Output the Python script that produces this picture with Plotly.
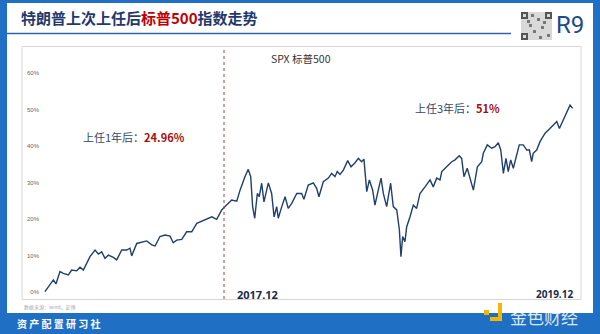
import plotly.graph_objects as go

# ---------------- data ----------------
years = [
    2016.974, 2016.993, 2017.022, 2017.037, 2017.060, 2017.079, 2017.108, 2017.127, 2017.156, 2017.175,
    2017.194, 2017.232, 2017.261, 2017.280, 2017.299, 2017.318, 2017.337, 2017.366, 2017.385, 2017.414,
    2017.442, 2017.461, 2017.471, 2017.500, 2017.538, 2017.557, 2017.586, 2017.605, 2017.633, 2017.662,
    2017.691, 2017.709, 2017.729, 2017.758, 2017.786, 2017.815, 2017.844, 2017.881, 2017.910, 2017.930,
    2017.958, 2017.987, 2018.006,
    2018.015, 2018.044, 2018.073, 2018.092, 2018.120, 2018.139, 2018.153, 2018.164, 2018.176, 2018.191,
    2018.202, 2018.216, 2018.229, 2018.254, 2018.273, 2018.287, 2018.302, 2018.311, 2018.331, 2018.350,
    2018.368, 2018.388, 2018.417, 2018.445, 2018.458, 2018.483, 2018.512, 2018.531, 2018.544, 2018.569,
    2018.598, 2018.617, 2018.636, 2018.649, 2018.665, 2018.684, 2018.709, 2018.728, 2018.751, 2018.770,
    2018.789, 2018.802, 2018.818, 2018.833, 2018.852, 2018.865, 2018.884, 2018.900, 2018.913, 2018.932,
    2018.955, 2018.970, 2018.990,
    2019.005, 2019.014, 2019.024, 2019.037, 2019.047, 2019.066, 2019.085, 2019.104, 2019.123, 2019.152,
    2019.181, 2019.199, 2019.219, 2019.238, 2019.248, 2019.276, 2019.305, 2019.324, 2019.348, 2019.362,
    2019.375, 2019.394, 2019.410, 2019.429, 2019.452, 2019.477, 2019.486, 2019.509, 2019.534, 2019.553,
    2019.572, 2019.586, 2019.601, 2019.616, 2019.629, 2019.643, 2019.658, 2019.673, 2019.692, 2019.715,
    2019.735, 2019.750, 2019.763, 2019.772, 2019.792, 2019.811, 2019.840, 2019.868, 2019.887, 2019.907,
    2019.922, 2019.941, 2019.960, 2019.973, 2019.983, 2019.998,
]
spx_gain_pct = [
    0.1, 1.5, 3.3, 2.2, 5.6, 5.1, 4.7, 6.0, 5.8, 6.8,
    6.0, 9.7, 11.5, 10.4, 11.0, 9.2, 10.1, 9.5, 8.8, 11.5,
    11.5, 12.0, 9.9, 13.3, 13.8, 14.0, 12.9, 12.6, 15.2, 15.6,
    15.3, 13.5, 14.2, 14.4, 16.5, 16.5, 18.8, 19.5, 20.2, 20.6,
    19.9, 22.5, 23.4,
    23.8, 25.2, 24.9, 27.9, 31.6, 33.6, 31.6, 23.4, 20.2, 27.0,
    26.1, 29.8, 24.7, 29.9, 27.0, 20.6, 23.4, 20.2, 23.4, 26.1,
    22.9, 24.3, 27.0, 27.0, 25.4, 29.3, 29.9, 28.4, 26.1, 30.2,
    31.2, 32.5, 31.6, 33.0, 32.2, 33.4, 36.0, 34.3, 35.4, 36.6,
    35.7, 36.4, 27.5, 30.7, 27.9, 23.8, 27.9, 31.2, 27.0, 23.4,
    29.8, 23.4, 22.5,
    17.0, 9.7, 15.2, 13.8, 17.9, 20.6, 23.8, 22.9, 27.0, 28.8,
    30.7, 28.8, 31.2, 30.7, 33.0, 34.3, 35.7, 36.2, 37.3, 36.6,
    31.6, 33.9, 31.2, 27.9, 34.3, 35.7, 38.0, 40.3, 39.4, 39.8,
    40.9, 38.9, 32.5, 36.6, 33.0, 36.2, 33.9, 36.6, 40.3, 40.3,
    38.9, 38.9, 35.7, 38.0, 38.9, 41.2, 43.5, 44.8, 45.8, 46.7,
    44.8, 46.7, 49.0, 50.3, 51.2, 50.3,
]
assert len(years) == len(spx_gain_pct)

y_ticks = [0, 10, 20, 30, 40, 50, 60]
y_tick_labels = ["0%", "10%", "20%", "30%", "40%", "50%", "60%"]
one_year_mark = 2018.0
series_name = "SPX 标普500"
title_plain_1 = "特朗普上次上任后"
title_red = "标普500"
title_plain_2 = "指数走势"
note_1y_label, note_1y_value = "上任1年后：", "24.96%"
note_3y_label, note_3y_value = "上任3年后：", "51%"
date_labels = ["2017.12", "2019.12"]

# ---------------- layout helpers (pixel -> paper) ----------------
W, H = 600, 334
PL, PR, PT, PB = 40, 578, 60, 296  # plot area in pixels


def xp(px):
    return (px - PL) / (PR - PL)


def yp(py):
    return (PB - py) / (PB - PT)


BLUE = "#1f6fc4"
NAVY = "#1f3a6b"
RED = "#c00000"
CJK = "Noto Sans CJK SC"

fig = go.Figure()
fig.add_trace(go.Scatter(
    x=years, y=spx_gain_pct, mode="lines", name=series_name,
    line=dict(color="#1f3f6e", width=1.4), showlegend=False,
))

shapes = [
    dict(type="rect", xref="paper", yref="paper", x0=xp(7), x1=xp(593), y0=yp(313), y1=yp(3),
         fillcolor="white", line=dict(width=0), layer="below"),
    dict(type="line", xref="paper", yref="paper", x0=xp(7), x1=xp(511), y0=yp(33.5), y1=yp(33.5),
         line=dict(color="#2f64ad", width=1.5)),
    dict(type="rect", xref="paper", yref="paper", x0=xp(22), x1=xp(581), y0=yp(299.5), y1=yp(46.5),
         fillcolor="rgba(0,0,0,0)", line=dict(color="#d6d6d6", width=1), layer="below"),
    dict(type="line", xref="x", yref="paper", x0=one_year_mark, x1=one_year_mark,
         y0=yp(299), y1=yp(47), line=dict(color="#b23a3a", width=1, dash="dot")),
    dict(type="rect", xref="paper", yref="paper", x0=xp(521), x1=xp(552), y0=yp(40), y1=yp(12),
         fillcolor="#d9d9d9", line=dict(width=0)),
]
for (qx, qy) in [(521, 12), (545, 12), (521, 33)]:
    shapes.append(dict(type="rect", xref="paper", yref="paper", x0=xp(qx), x1=xp(qx + 7),
                       y0=yp(qy + 7), y1=yp(qy), fillcolor="#555", line=dict(width=0)))
    shapes.append(dict(type="rect", xref="paper", yref="paper", x0=xp(qx + 2), x1=xp(qx + 5),
                       y0=yp(qy + 5), y1=yp(qy + 2), fillcolor="#d9d9d9", line=dict(width=0)))
for (qx, qy) in [(531, 14), (537, 18), (529, 24), (541, 26), (533, 30), (547, 34), (539, 36), (527, 20), (543, 21)]:
    shapes.append(dict(type="rect", xref="paper", yref="paper", x0=xp(qx), x1=xp(qx + 3),
                       y0=yp(qy + 3), y1=yp(qy), fillcolor="#777", line=dict(width=0)))
shapes += [
    dict(type="rect", xref="paper", yref="paper", x0=xp(490), x1=xp(502), y0=yp(321), y1=yp(317),
         fillcolor="#f2b705", line=dict(width=0)),
    dict(type="rect", xref="paper", yref="paper", x0=xp(498), x1=xp(502), y0=yp(321), y1=yp(303),
         fillcolor="#f2b705", line=dict(width=0)),
    dict(type="rect", xref="paper", yref="paper", x0=xp(484), x1=xp(489), y0=yp(315), y1=yp(310),
         fillcolor="#f2b705", line=dict(width=0)),
]

annotations = [
    dict(xref="paper", yref="paper", x=xp(19), y=yp(17), xanchor="left", yanchor="middle",
         text=f"<b>{title_plain_1}<span style='color:{RED}'>{title_red}</span>{title_plain_2}</b>",
         showarrow=False, font=dict(family=CJK, size=15, color=NAVY)),
    dict(xref="paper", yref="paper", x=xp(570), y=yp(25), xanchor="center", yanchor="middle",
         text="R9", showarrow=False, font=dict(family="Roboto", size=24, color="#1d4a8a")),
    dict(xref="paper", yref="paper", x=xp(301), y=yp(58), xanchor="center", yanchor="middle",
         text=series_name, showarrow=False, font=dict(family=CJK, size=10.5, color="#333")),
    dict(xref="paper", yref="paper", x=xp(81), y=yp(136.5), xanchor="left", yanchor="middle",
         text=f"{note_1y_label}<b><span style='color:#a50f0f'>{note_1y_value}</span></b>",
         showarrow=False, font=dict(family=CJK, size=11, color="#3a4766")),
    dict(xref="paper", yref="paper", x=xp(413), y=yp(108), xanchor="left", yanchor="middle",
         text=f"{note_3y_label}<b><span style='color:#a50f0f'>{note_3y_value}</span></b>",
         showarrow=False, font=dict(family=CJK, size=11, color="#3a4766")),
    dict(xref="paper", yref="paper", x=xp(235), y=yp(294), xanchor="left", yanchor="middle",
         text=f"<b>{date_labels[0]}</b>", showarrow=False,
         font=dict(family="Open Sans", size=11, color="#1b2a48")),
    dict(xref="paper", yref="paper", x=xp(534), y=yp(293.5), xanchor="left", yanchor="middle",
         text=f"<b>{date_labels[1]}</b>", showarrow=False,
         font=dict(family="Open Sans", size=10, color="#1b2a48")),
    dict(xref="paper", yref="paper", x=xp(22), y=yp(306.5), xanchor="left", yanchor="middle",
         text="数据来源：wind，彭博", showarrow=False, font=dict(family=CJK, size=5, color="#aaa")),
    dict(xref="paper", yref="paper", x=xp(15), y=yp(323.5), xanchor="left", yanchor="middle",
         text="<b>资&nbsp;产&nbsp;配&nbsp;置&nbsp;研&nbsp;习&nbsp;社</b>", showarrow=False,
         font=dict(family=CJK, size=10, color="white")),
    dict(xref="paper", yref="paper", x=xp(508), y=yp(316), xanchor="left", yanchor="middle",
         text="金色财经", showarrow=False,
         font=dict(family=CJK, size=17, color="rgba(255,255,255,0.85)")),
]

fig.update_layout(
    width=W, height=H, autosize=False,
    margin=dict(l=PL, r=W - PR, t=PT, b=H - PB, pad=0),
    paper_bgcolor=BLUE, plot_bgcolor="white",
    shapes=shapes, annotations=annotations,
    xaxis=dict(range=[2018 + (PL - 224) / 174.5, 2018 + (PR - 224) / 174.5],
               showgrid=False, zeroline=False, showticklabels=False, showline=False, ticks=""),
    yaxis=dict(range=[(292 - PB) / 3.65, (292 - PT) / 3.65], tickmode="array",
               tickvals=y_ticks, ticktext=y_tick_labels, showgrid=False, zeroline=False,
               showline=False, ticks="", tickfont=dict(family="Liberation Sans", size=6, color="#666")),
    showlegend=False,
)

fig.write_html("out.html")
